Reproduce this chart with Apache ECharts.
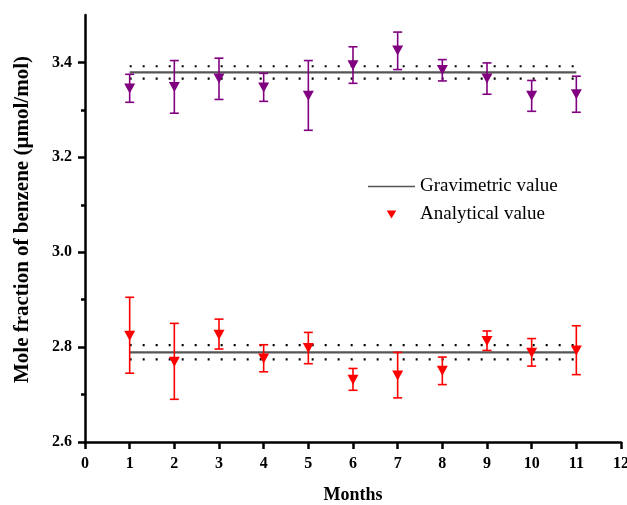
<!DOCTYPE html>
<html>
<head>
<meta charset="utf-8">
<script src="https://cdn.jsdelivr.net/npm/echarts@6/dist/echarts.min.js"></script>
<style>
  html, body { margin: 0; padding: 0; background: #fff; }
  #chart { width: 627px; height: 505px; }
</style>
</head>
<body>
<div id="chart"></div>
<script>
// months of the stability study
var months = [1, 2, 3, 4, 5, 6, 7, 8, 9, 10, 11];

// upper cylinder (purple)
var upperMean = [3.345, 3.348, 3.366, 3.347, 3.330, 3.394, 3.425, 3.384, 3.366, 3.330, 3.333];
var upperLow  = [3.316, 3.293, 3.322, 3.318, 3.257, 3.356, 3.385, 3.361, 3.333, 3.297, 3.295];
var upperHigh = [3.375, 3.404, 3.409, 3.377, 3.404, 3.433, 3.464, 3.406, 3.399, 3.362, 3.371];

// lower cylinder (red)
var lowerMean = [2.824, 2.769, 2.826, 2.776, 2.798, 2.731, 2.740, 2.750, 2.813, 2.788, 2.793];
var lowerLow  = [2.745, 2.690, 2.796, 2.748, 2.765, 2.709, 2.693, 2.721, 2.793, 2.760, 2.742];
var lowerHigh = [2.905, 2.850, 2.859, 2.805, 2.831, 2.755, 2.789, 2.779, 2.834, 2.818, 2.845];

// gravimetric values and their uncertainty
var gravUpper = 3.379, gravUpperU = 0.013;
var gravLower = 2.789, gravLowerU = 0.015;

var yMajorTicks = [2.6, 2.8, 3.0, 3.2, 3.4];
var yMinorTicks = [2.7, 2.9, 3.1, 3.3];

var FONT = "'Liberation Serif', 'Times New Roman', serif";
var PURPLE = '#800080';
var RED = '#ff0000';

function pts(vals) {
  return months.map(function (m, i) { return [m, vals[i]]; });
}
function bars(low, high) {
  return months.map(function (m, i) { return [m, low[i], high[i]]; });
}
function flat(v) {
  return [[months[0], v], [months[months.length - 1], v]];
}

function errorBar(color) {
  return function (params, api) {
    var x = api.value(0);
    var lo = api.coord([x, api.value(1)]);
    var hi = api.coord([x, api.value(2)]);
    var cap = 4.5;
    var style = { stroke: color, lineWidth: 1.6 };
    return {
      type: 'group',
      children: [
        { type: 'line', shape: { x1: lo[0], y1: lo[1], x2: hi[0], y2: hi[1] }, style: style },
        { type: 'line', shape: { x1: lo[0] - cap, y1: lo[1], x2: lo[0] + cap, y2: lo[1] }, style: style },
        { type: 'line', shape: { x1: hi[0] - cap, y1: hi[1], x2: hi[0] + cap, y2: hi[1] }, style: style }
      ]
    };
  };
}

function dotted(name, v) {
  return {
    name: name, type: 'line', data: flat(v), symbol: 'none', silent: true,
    lineStyle: { color: '#000', width: 2.2, type: [2, 11] }, z: 2
  };
}

var chart = echarts.init(document.getElementById('chart'));
var option = {
  backgroundColor: '#fff',
  animation: false,
  grid: { left: 85, right: 6, top: 15, bottom: 63, containLabel: false, outerBoundsMode: 'none' },
  legend: {
    orient: 'vertical',
    left: 368,
    top: 177,
    padding: 0,
    itemWidth: 47,
    itemHeight: 8,
    itemGap: 9,
    textStyle: { fontFamily: FONT, fontSize: 19, color: '#000' },
    data: [
      { name: 'Gravimetric value', icon: 'path://M0,0L47,0L47,1.6L0,1.6Z' },
      { name: 'Analytical value', icon: 'path://M0,0L12,0L6,10Z' }
    ]
  },
  xAxis: {
    type: 'value',
    min: 0, max: 12, interval: 1,
    name: 'Months',
    nameLocation: 'middle',
    nameGap: 44,
    nameTextStyle: { fontFamily: FONT, fontSize: 18, fontWeight: 'bold', color: '#000' },
    axisLine: { show: true, onZero: false, lineStyle: { color: '#000', width: 2.5 } },
    axisTick: { show: true, length: 7, lineStyle: { color: '#000', width: 2.5 } },
    axisLabel: { margin: 14, fontFamily: FONT, fontSize: 16, fontWeight: 'bold', color: '#000' },
    splitLine: { show: false }
  },
  yAxis: [
    {
      type: 'value',
      min: 2.6, max: 3.5,
      name: 'Mole fraction of benzene (\u00b5mol/mol)',
      nameLocation: 'middle',
      nameGap: 52,
      nameTextStyle: { fontFamily: FONT, fontSize: 21, fontWeight: 'bold', color: '#000', padding: [0, 0, 0, 18] },
      axisLine: { show: true, onZero: false, lineStyle: { color: '#000', width: 2.5 } },
      axisTick: { show: true, length: 7, customValues: yMajorTicks, lineStyle: { color: '#000', width: 2.5 } },
      axisLabel: {
        margin: 13, customValues: yMajorTicks,
        fontFamily: FONT, fontSize: 16, fontWeight: 'bold', color: '#000',
        formatter: function (v) { return v.toFixed(1); }
      },
      splitLine: { show: false }
    },
    {
      type: 'value',
      min: 2.6, max: 3.5,
      position: 'left',
      axisLine: { show: false },
      axisTick: { show: true, length: 4, customValues: yMinorTicks, lineStyle: { color: '#000', width: 2.5 } },
      axisLabel: { show: false },
      splitLine: { show: false }
    }
  ],
  series: [
    {
      name: 'Gravimetric value', type: 'line', data: flat(gravUpper), symbol: 'none', silent: true,
      lineStyle: { color: '#555', width: 2.2 }, itemStyle: { color: '#555' }, z: 2
    },
    dotted('upper limit 1', gravUpper + gravUpperU),
    dotted('lower limit 1', gravUpper - gravUpperU),
    {
      name: 'Gravimetric value', type: 'line', data: flat(gravLower), symbol: 'none', silent: true,
      lineStyle: { color: '#555', width: 2.2 }, itemStyle: { color: '#555' }, z: 2
    },
    dotted('upper limit 2', gravLower + gravLowerU),
    dotted('lower limit 2', gravLower - gravLowerU),
    {
      name: 'upper error', type: 'custom', data: bars(upperLow, upperHigh),
      renderItem: errorBar(PURPLE), encode: { x: 0, y: [1, 2] }, z: 3
    },
    {
      name: 'lower error', type: 'custom', data: bars(lowerLow, lowerHigh),
      renderItem: errorBar(RED), encode: { x: 0, y: [1, 2] }, z: 3
    },
    {
      name: 'Analytical value (upper)', type: 'scatter', data: pts(upperMean),
      symbol: 'triangle', symbolRotate: 180, symbolSize: [11, 10],
      itemStyle: { color: PURPLE, opacity: 1 }, z: 4
    },
    {
      name: 'Analytical value', type: 'scatter', data: pts(lowerMean),
      symbol: 'triangle', symbolRotate: 180, symbolSize: [11, 10],
      itemStyle: { color: RED, opacity: 1 }, z: 4
    }
  ]
};
chart.setOption(option);
</script>
</body>
</html>
